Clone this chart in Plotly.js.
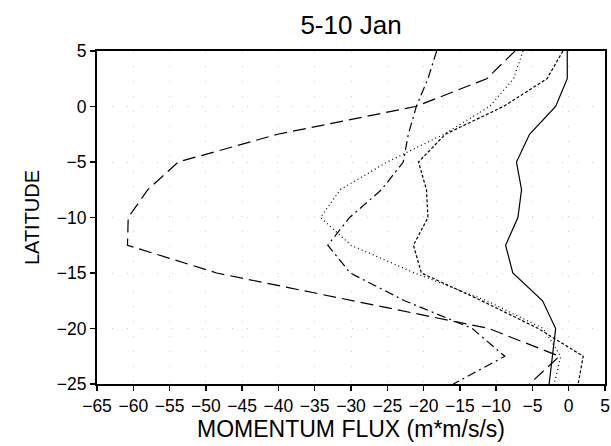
<!DOCTYPE html>
<html>
<head>
<meta charset="utf-8">
<script src="https://cdn.plot.ly/plotly-3.0.1.min.js"></script>
<style>html,body{margin:0;padding:0;background:#fff;}#chart{width:611px;height:446px;}</style>
</head>
<body>
<div id="chart"></div>
<script>
// Latitudes (degrees)
const latitude = [5, 2.5, 0, -2.5, -5, -7.5, -10, -12.5, -15, -17.5, -20, -22.5, -25];
// Momentum flux series (m*m/s/s)
const fluxSolid    = [-0.2, -0.2, -1.8, -5.4, -7.2, -6.5, -7.0, -8.7, -7.7, -3.6, -1.8, -2.2, -2.7];
const fluxShortDash= [-0.8, -3.0, -9.0, -17.0, -20.7, -19.6, -19.4, -21.4, -20.3, -12.0, -4.2, 2.0, 1.3];
const fluxDotted   = [-6.3, -7.6, -10.9, -17.2, -25.0, -31.5, -34.2, -30.0, -21.2, -11.3, -3.5, -1.1, -2.0];
const fluxDashDot  = [-18.2, -19.4, -21.0, -22.1, -22.8, -25.8, -30.2, -33.2, -30.1, -22.6, -13.3, -8.8, -15.9];
const fluxLongDash = [-7.4, -11.3, -21.1, -40.1, -53.8, -58.0, -60.7, -60.8, -48.5, -29.5, -11.0, -1.3, -5.4];

const xTicks = [-65, -60, -55, -50, -45, -40, -35, -30, -25, -20, -15, -10, -5, 0, 5];
const yTicks = [5, 0, -5, -10, -15, -20, -25];

function mk(x, dash) {
  return {x: x, y: latitude, mode: 'lines', type: 'scatter',
          line: {color: '#000', width: 1.2, dash: dash}, hoverinfo: 'skip', showlegend: false};
}
const data = [
  mk(fluxSolid, 'solid'),
  mk(fluxShortDash, '3px,2px'),
  mk(fluxDotted, '1px,3px'),
  mk(fluxDashDot, '9px,4px,2px,4px'),
  mk(fluxLongDash, '13px,6px')
];

const font = 'Liberation Sans, Arial, sans-serif';
const layout = {
  width: 611, height: 446,
  margin: {l: 97, r: 6, t: 51, b: 62},
  paper_bgcolor: '#fff', plot_bgcolor: '#fff',
  showlegend: false,
  title: {text: '5-10 Jan', font: {family: font, size: 26, color: '#000'},
          x: 0.5, xref: 'paper', y: 0.945, yref: 'container', yanchor: 'middle'},
  xaxis: {
    range: [-65, 5], tickvals: xTicks, ticktext: xTicks.map(v => v < 0 ? '\u2212' + Math.abs(v) : String(v)),
    ticks: 'outside', ticklen: 5, tickwidth: 1.5, tickcolor: '#000',
    showline: true, linewidth: 2, linecolor: '#000', mirror: true,
    showgrid: true, gridcolor: '#cfcfcf', gridwidth: 1, griddash: '1px,14px',
    zeroline: false,
    tickfont: {family: font, size: 17.5, color: '#000'},
    title: {text: 'MOMENTUM FLUX (m*m/s/s)', font: {family: font, size: 23, color: '#000'}, standoff: 4}
  },
  yaxis: {
    range: [-25, 5], tickvals: yTicks, ticktext: yTicks.map(v => v < 0 ? '\u2212' + Math.abs(v) : String(v)),
    ticks: 'outside', ticklen: 5, tickwidth: 1.5, tickcolor: '#000',
    showline: true, linewidth: 2, linecolor: '#000', mirror: true,
    showgrid: true, gridcolor: '#cfcfcf', gridwidth: 1, griddash: '1px,14px',
    zeroline: false,
    tickfont: {family: font, size: 17.5, color: '#000'},
    title: {text: 'LATITUDE', font: {family: font, size: 20, color: '#000'}, standoff: 12}
  }
};
Plotly.newPlot('chart', data, layout, {staticPlot: true, displayModeBar: false});
</script>
</body>
</html>
